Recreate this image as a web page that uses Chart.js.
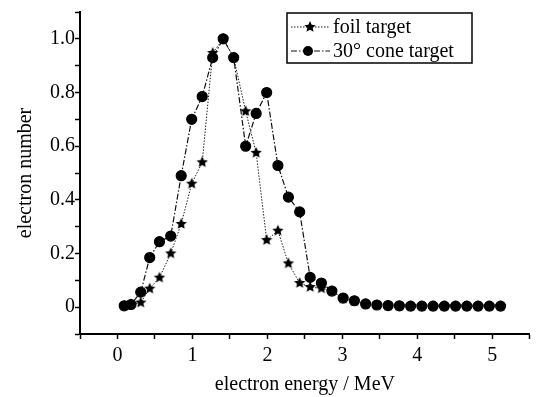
<!DOCTYPE html>
<html>
<head>
<meta charset="utf-8">
<script src="https://cdn.jsdelivr.net/npm/chart.js@4"></script>
<style>
  body { margin: 0; background: #fff; }
  #wrap { width: 536px; height: 397px; }
</style>
</head>
<body>
<div id="wrap"><canvas id="spectrumChart" width="536" height="397"></canvas></div>
<script>
// electron energy (MeV) of each sample, shared by both series
const energies = [0.09, 0.18, 0.31, 0.43, 0.56, 0.71, 0.85, 0.99, 1.13, 1.27, 1.41, 1.55,
    1.71, 1.85, 1.99, 2.14, 2.28, 2.43, 2.57, 2.72, 2.86, 3.01, 3.16, 3.31,
    3.46, 3.61, 3.76, 3.91, 4.06, 4.21, 4.36, 4.51, 4.66, 4.81, 4.96, 5.11];

const foilCounts = [0.005, 0.010, 0.017, 0.069, 0.110, 0.200, 0.310, 0.460, 0.540, 0.947, 1.000, 0.930,
    0.730, 0.575, 0.250, 0.285, 0.163, 0.090, 0.075, 0.070, 0.060, 0.032, 0.022, 0.012,
    0.007, 0.005, 0.004, 0.004, 0.004, 0.004, 0.004, 0.004, 0.004, 0.004, 0.004, 0.004];

const coneCounts = [0.005, 0.010, 0.056, 0.185, 0.244, 0.265, 0.490, 0.700, 0.785, 0.930, 1.000, 0.930,
    0.600, 0.722, 0.800, 0.528, 0.410, 0.355, 0.111, 0.090, 0.060, 0.034, 0.024, 0.012,
    0.008, 0.006, 0.005, 0.004, 0.004, 0.004, 0.004, 0.004, 0.004, 0.004, 0.004, 0.004];

const seriesLabels = ['foil target', '30\u00b0 cone target'];

const serif = '"Liberation Serif", "DejaVu Serif", serif';

function toPoints(xs, ys) {
    return xs.map((x, i) => ({ x: x, y: ys[i] }));
}

// filled five pointed star used as marker
function makeStar(r) {
    const c = document.createElement('canvas');
    const s = Math.ceil(r * 2 + 2);
    c.width = s;
    c.height = s;
    const g = c.getContext('2d');
    g.fillStyle = '#000';
    g.beginPath();
    for (let i = 0; i < 10; i++) {
        const rad = i % 2 === 0 ? r : r * 0.47;
        const a = -Math.PI / 2 + i * Math.PI / 5;
        g.lineTo(s / 2 + rad * Math.cos(a), s / 2 + rad * Math.sin(a));
    }
    g.closePath();
    g.fill();
    return c;
}

const starMarker = makeStar(6);

const legendBox = {
    id: 'legendBox',
    afterDraw(chart) {
        const ctx = chart.ctx;
        ctx.save();
        ctx.strokeStyle = '#000';
        ctx.lineWidth = 1.5;
        ctx.strokeRect(287, 13, 185, 50);
        chart.data.datasets.forEach((ds, i) => {
            const y = 27 + i * 24;
            ctx.strokeStyle = ds.borderColor;
            ctx.lineWidth = 1;
            ctx.setLineDash(ds.borderDash);
            ctx.beginPath();
            ctx.moveTo(291, y);
            ctx.lineTo(330, y);
            ctx.stroke();
            ctx.setLineDash([]);
            ctx.fillStyle = '#000';
            if (ds.pointStyle instanceof HTMLCanvasElement) {
                ctx.drawImage(ds.pointStyle, 310 - ds.pointStyle.width / 2, y - ds.pointStyle.height / 2);
            } else {
                ctx.beginPath();
                ctx.arc(308, y, ds.pointRadius, 0, Math.PI * 2);
                ctx.fill();
            }
            ctx.font = '20px ' + serif;
            ctx.textBaseline = 'middle';
            ctx.textAlign = 'left';
            ctx.fillText(ds.label, 333, y + 1);
        });
        ctx.restore();
    }
};

const ctx = document.getElementById('spectrumChart').getContext('2d');
new Chart(ctx, {
    type: 'scatter',
    data: {
        datasets: [
            {
                label: seriesLabels[0],
                data: toPoints(energies, foilCounts),
                showLine: true,
                borderColor: '#222',
                borderWidth: 1,
                borderDash: [1.5, 1.5],
                pointStyle: starMarker,
                backgroundColor: '#000'
            },
            {
                label: seriesLabels[1],
                data: toPoints(energies, coneCounts),
                showLine: true,
                borderColor: '#111',
                borderWidth: 1.2,
                borderDash: [6, 2, 1.5, 2],
                pointStyle: 'circle',
                pointRadius: 5,
                backgroundColor: '#000',
                pointBorderColor: '#000'
            }
        ]
    },
    options: {
        responsive: false,
        animation: false,
        layout: { padding: { top: 8, right: 6, left: 0, bottom: 0 } },
        plugins: {
            legend: { display: false },
            tooltip: { enabled: false }
        },
        scales: {
            x: {
                type: 'linear',
                min: -0.5,
                max: 5.5,
                afterFit: function (scale) { scale.height = 63; },
                border: { display: true, color: '#000', width: 2 },
                grid: { drawOnChartArea: false, drawTicks: true, tickLength: 5, tickColor: '#000', tickWidth: 1.5 },
                ticks: {
                    stepSize: 0.5,
                    autoSkip: false,
                    padding: 5,
                    color: '#000',
                    font: { family: serif, size: 20 },
                    maxRotation: 0,
                    callback: function (v) {
                        const t = Math.round(v * 2);
                        return t % 2 === 0 ? String(t / 2) : '';
                    }
                },
                title: {
                    display: true,
                    text: 'electron energy / MeV',
                    color: '#000',
                    font: { family: serif, size: 20 },
                    padding: { top: 0, bottom: 0 }
                }
            },
            y: {
                min: -0.1,
                max: 1.1,
                afterFit: function (scale) { scale.width = 80; },
                border: { display: true, color: '#000', width: 2 },
                grid: { drawOnChartArea: false, drawTicks: true, tickLength: 5, tickColor: '#000', tickWidth: 1.5 },
                ticks: {
                    stepSize: 0.1,
                    autoSkip: false,
                    padding: 0,
                    color: '#000',
                    font: { family: serif, size: 20 },
                    callback: function (v) {
                        const t = Math.round(v * 10);
                        if (t < 0 || t % 2 !== 0) return '';
                        return t === 0 ? '0' : (t / 10).toFixed(1);
                    }
                },
                title: {
                    display: true,
                    text: 'electron number',
                    color: '#000',
                    font: { family: serif, size: 20 },
                    padding: { top: 14, bottom: 0 }
                }
            }
        }
    },
    plugins: [legendBox]
});
</script>
</body>
</html>
